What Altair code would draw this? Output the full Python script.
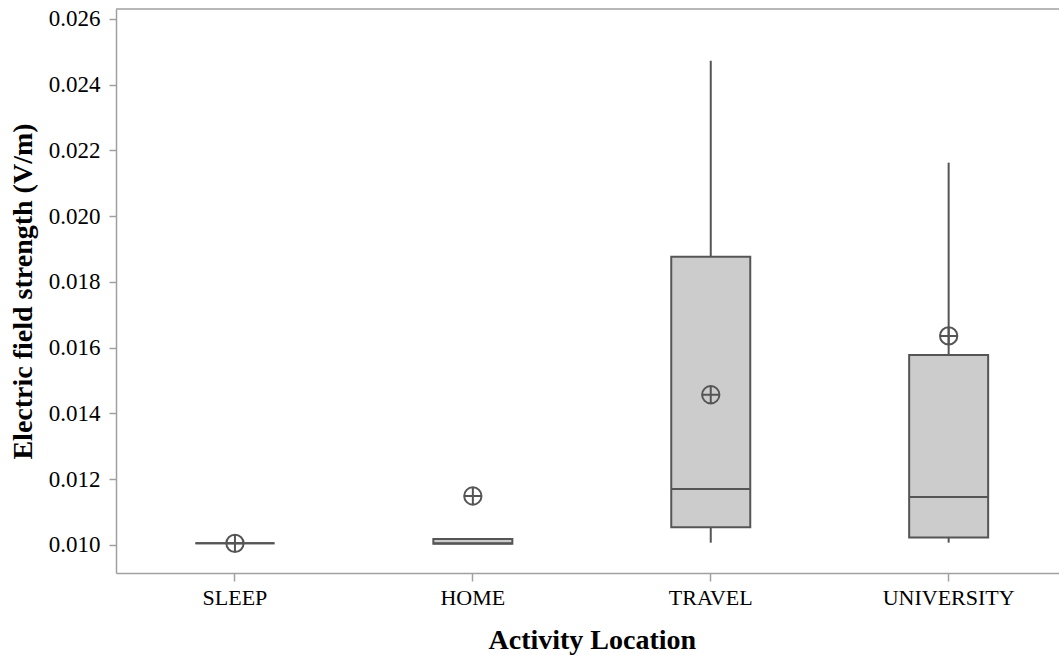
import altair as alt
import pandas as pd

categories = ["SLEEP", "HOME", "TRAVEL", "UNIVERSITY"]
whisker_low = [0.01005, 0.01004, 0.01007, 0.01007]
q1 = [0.01005, 0.01004, 0.01054, 0.01023]
median = [0.01005, 0.01005, 0.01170, 0.01146]
q3 = [0.01005, 0.01018, 0.01877, 0.01578]
whisker_high = [0.01005, 0.01018, 0.02473, 0.02163]
mean = [0.01005, 0.01149, 0.01457, 0.01636]
y_ticks = [0.010, 0.012, 0.014, 0.016, 0.018, 0.020, 0.022, 0.024, 0.026]

df = pd.DataFrame({
    "cat": categories, "lo": whisker_low, "q1": q1, "med": median,
    "q3": q3, "hi": whisker_high, "mean": mean,
})

W, H = 943, 564
FONT = "Liberation Serif"
DARK = "#555555"
AXIS_GRAY = "#a0a0a0"

x = alt.X("cat:N", sort=categories,
          scale=alt.Scale(range=[0, 951.6], paddingInner=0, paddingOuter=0),
          axis=alt.Axis(title="Activity Location", labelAngle=0, tickSize=8,
                        labelPadding=6, titleFontSize=28, titleFontWeight="bold",
                        titleY=75, titleBaseline="alphabetic", labelFontSize=22,
                        labelFont=FONT, titleFont=FONT, labelColor="black",
                        titleColor="black", domainColor=AXIS_GRAY, domainWidth=1.5,
                        tickColor=AXIS_GRAY, tickWidth=1.5))
yscale = alt.Scale(domain=[0.009148, 0.026304], nice=False, zero=False)
y_axis = alt.Axis(title="Electric field strength (V/m)", values=y_ticks, format=".3f",
                  tickSize=7, labelPadding=9, labelFontSize=23, titleFontSize=28,
                  titleFontWeight="bold", titleX=-93, titleBaseline="middle", grid=False,
                  labelFont=FONT, titleFont=FONT, labelColor="black",
                  titleColor="black", domainColor=AXIS_GRAY, domainWidth=1.5,
                  tickColor=AXIS_GRAY, tickWidth=1.5)

base = alt.Chart(df)

whisk_lo = base.mark_rule(color=DARK, strokeWidth=2).encode(
    x=x, y=alt.Y("lo:Q", scale=yscale, axis=y_axis), y2="q1:Q")
whisk_hi = base.mark_rule(color=DARK, strokeWidth=2).encode(
    x=x, y=alt.Y("q3:Q", scale=yscale), y2="hi:Q")
box = base.mark_bar(fill="#cccccc", stroke=DARK, strokeWidth=2, size=79).encode(
    x=x, y=alt.Y("q1:Q", scale=yscale), y2="q3:Q")
med = base.mark_tick(color=DARK, size=79, thickness=2, opacity=1).encode(
    x=x, y=alt.Y("med:Q", scale=yscale))
mean_pt = base.mark_point(
    shape="M-1,0A1,1 0 1,0 1,0A1,1 0 1,0 -1,0M-1,0L1,0M0,-1L0,1",
    size=300, filled=False, stroke=DARK, strokeWidth=2, opacity=1).encode(
    x=x, y=alt.Y("mean:Q", scale=yscale))
top_line = alt.Chart(pd.DataFrame({"a": [0]})).mark_rule(
    color=AXIS_GRAY, strokeWidth=1.5).encode(
    x=alt.value(0), x2=alt.value(W), y=alt.value(0))

chart = alt.layer(whisk_lo, whisk_hi, box, med, mean_pt, top_line).properties(
    width=W, height=H,
    autosize=alt.AutoSizeParams(type="none"),
    padding={"left": 116, "top": 9, "right": 0, "bottom": 82},
    background="white",
).configure_view(stroke=None)

chart.save("out.html", embed_options={"renderer": "svg", "actions": False})
